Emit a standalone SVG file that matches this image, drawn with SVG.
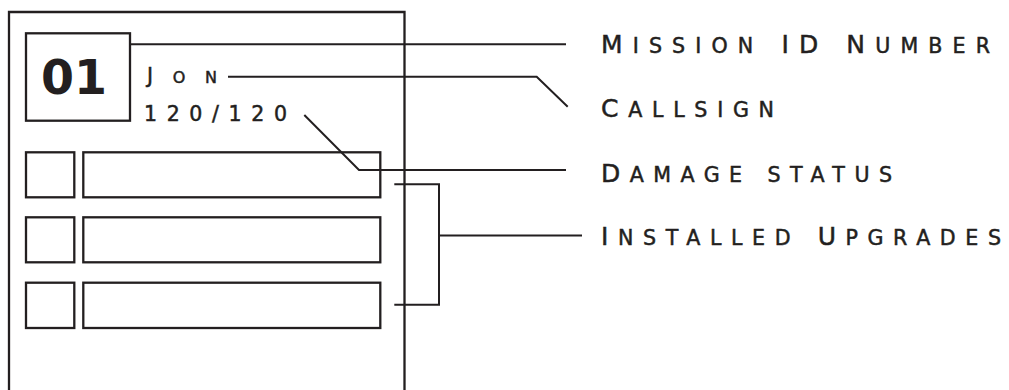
<svg xmlns="http://www.w3.org/2000/svg" width="1009" height="390" viewBox="0 0 1009 390">
  <style>
    .box { fill: none; stroke: #231f20; stroke-width: 2.3; }
    .ln { fill: none; stroke: #231f20; stroke-width: 2; }
    .lbl { font-family: "DejaVu Sans", "Liberation Sans", sans-serif; font-size: 25px; fill: #231f20; stroke: #231f20; stroke-width: 0.5; }
    .lbl .sc { font-size: 20.6px; text-transform: uppercase; }
    .inner { font-family: "DejaVu Sans", "Liberation Sans", sans-serif; font-size: 20.5px; fill: #231f20; stroke: #231f20; stroke-width: 0.5; }
    .inner .sc { font-size: 16px; text-transform: uppercase; }
    .id { font-family: "DejaVu Sans", "Liberation Sans", sans-serif; font-weight: bold; font-size: 48px; fill: #231f20; }
  </style>
  <rect width="1009" height="390" fill="#ffffff"/>
  <g id="panel">
    <path class="box" d="M9,392 V12 H404.5 V392"/>
  </g>
  <g id="mission-id">
    <rect class="box" x="26" y="33.3" width="104" height="87.4"/>
    <text class="id" x="41" y="93.5" textLength="66" lengthAdjust="spacingAndGlyphs">01</text>
  </g>
  <g id="callsign">
    <text class="inner" x="147" y="83.3" textLength="70" lengthAdjust="spacing">J<tspan class="sc">on</tspan></text>
  </g>
  <g id="damage">
    <text class="inner" x="144" y="121" textLength="143" lengthAdjust="spacing">120/120</text>
  </g>
  <g id="upgrade-1">
    <rect class="box" x="26" y="152.3" width="48.3" height="45"/>
    <rect class="box" x="83.3" y="152.3" width="297" height="45"/>
  </g>
  <g id="upgrade-2">
    <rect class="box" x="26" y="217.3" width="48.3" height="45"/>
    <rect class="box" x="83.3" y="217.3" width="297" height="45"/>
  </g>
  <g id="upgrade-3">
    <rect class="box" x="26" y="282.7" width="48.3" height="45.3"/>
    <rect class="box" x="83.3" y="282.7" width="297" height="45.3"/>
  </g>
  <g id="connectors">
    <path class="ln" d="M130,44.3 H566"/>
    <path class="ln" d="M228,76.7 H536.7 L567.7,106.7"/>
    <path class="ln" d="M304.3,115 L359,170 H566"/>
    <path class="ln" d="M394.3,184.3 H439 V304.7 H394.3"/>
    <path class="ln" d="M439,235.5 H582"/>
  </g>
  <g id="label-mission">
    <text class="lbl" x="601" y="53.3" textLength="389" lengthAdjust="spacing">M<tspan class="sc">ission</tspan> ID N<tspan class="sc">umber</tspan></text>
  </g>
  <g id="label-callsign">
    <text class="lbl" x="601" y="117" textLength="173" lengthAdjust="spacing">C<tspan class="sc">allsign</tspan></text>
  </g>
  <g id="label-damage">
    <text class="lbl" x="601" y="182.3" textLength="291" lengthAdjust="spacing">D<tspan class="sc">amage status</tspan></text>
  </g>
  <g id="label-upgrades">
    <text class="lbl" x="601" y="245" textLength="400" lengthAdjust="spacing">I<tspan class="sc">nstalled</tspan> U<tspan class="sc">pgrades</tspan></text>
  </g>
</svg>
